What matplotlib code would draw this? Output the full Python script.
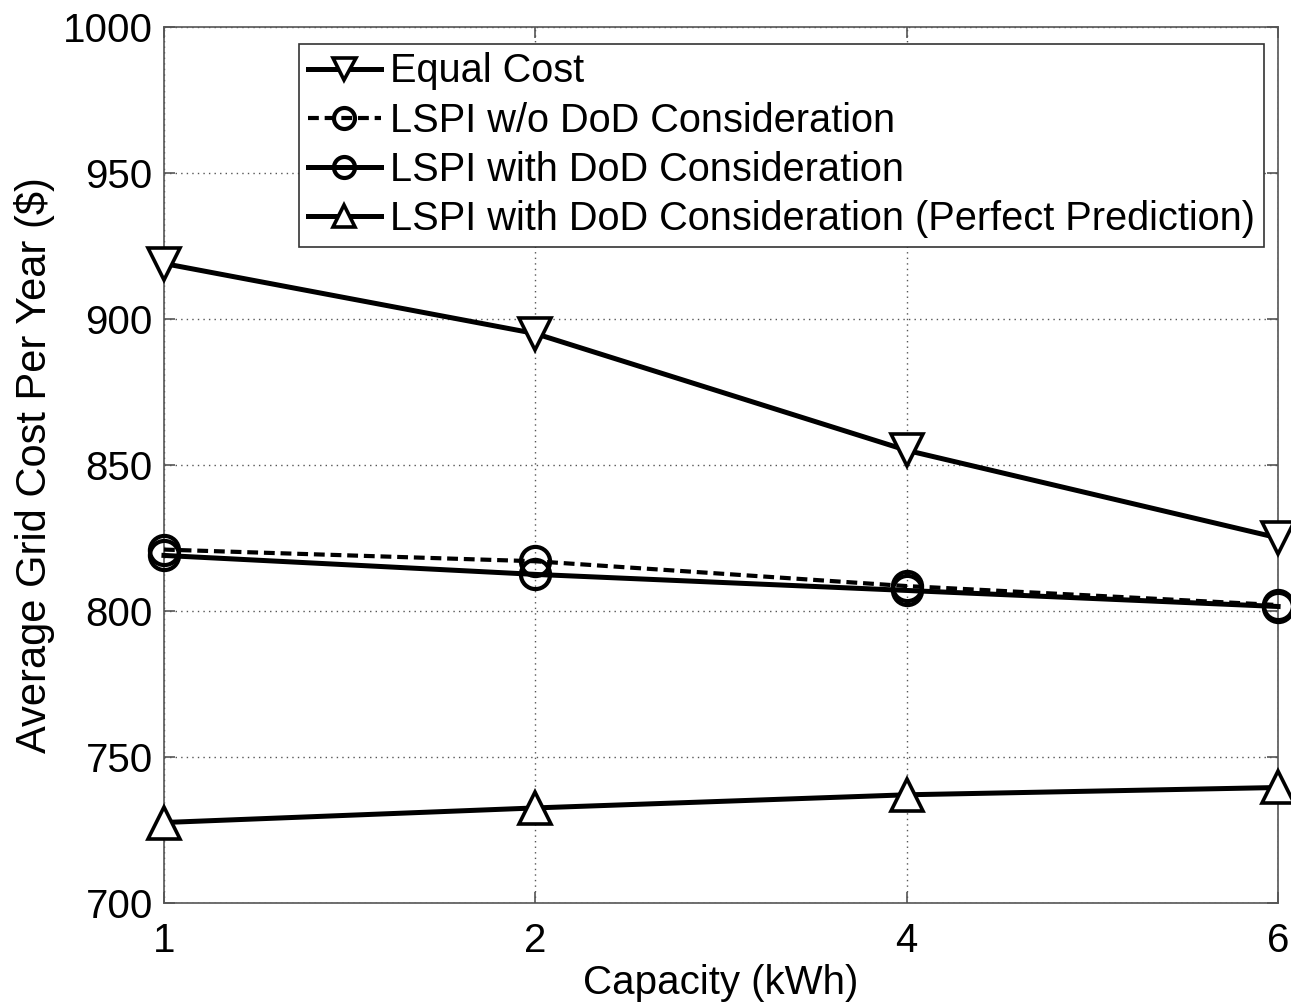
import matplotlib
matplotlib.use("Agg")
import matplotlib.pyplot as plt

# data
capacity = ["1", "2", "4", "6"]
equal_cost = [919, 895, 855, 825]
lspi_no_dod = [821, 817, 808.5, 802]
lspi_dod = [819, 812.5, 807, 801.5]
lspi_perfect = [727.5, 732.5, 737, 739.5]

plt.rcParams['font.family'] = ['Liberation Sans', 'DejaVu Sans']

fig = plt.figure(figsize=(12.91, 10.02), dpi=100)
ax = fig.add_axes([0.127, 0.099, 0.863, 0.874])

xs = range(len(capacity))
ax.plot(xs, equal_cost, color='k', lw=3.6, marker='v', ms=23, mew=2.6,
        mfc='white', label='Equal Cost', zorder=3, clip_on=False)
ax.plot(xs, lspi_no_dod, color='k', lw=3.0, ls=(0, (2.6, 1.4)), marker='o', ms=21, mew=3.0,
        mfc='none', label='LSPI w/o DoD Consideration', zorder=3, clip_on=False)
ax.plot(xs, lspi_dod, color='k', lw=3.6, marker='o', ms=21, mew=3.0,
        mfc='none', label='LSPI with DoD Consideration', zorder=3, clip_on=False)
ax.plot(xs, lspi_perfect, color='k', lw=3.6, marker='^', ms=23, mew=2.6,
        mfc='white', label='LSPI with DoD Consideration (Perfect Prediction)', zorder=3,
        clip_on=False)

ax.set_xlim(0, len(capacity) - 1)
ax.set_ylim(700, 1000)
ax.set_xticks(list(xs))
ax.set_xticklabels(capacity)
ax.set_yticks(range(700, 1001, 50))

ax.grid(True, color='#555555', ls=(0, (1, 3)), lw=1.0)
for sp in ax.spines.values():
    sp.set_color('#555555')
    sp.set_linewidth(1.2)
ax.tick_params(direction='in', length=8, width=1.2, color='#555555',
               labelsize=29, pad=8, top=True, right=True)
ax.tick_params(axis='x', pad=14)

ax.set_xlabel('Capacity (kWh)', fontsize=29, labelpad=3)
ax.set_ylabel('Average Grid Cost Per Year ($)', fontsize=30, labelpad=6)

leg = ax.legend(loc='upper right', bbox_to_anchor=(0.987, 0.981), fontsize=28.6,
                frameon=True, fancybox=False, edgecolor='#333333', framealpha=1,
                handlelength=1.85, handletextpad=0.22, labelspacing=0.28,
                borderpad=0.22, borderaxespad=0, markerscale=0.72)
leg.get_frame().set_linewidth(1.2)

fig.savefig('out.png', dpi=100, facecolor='white')
